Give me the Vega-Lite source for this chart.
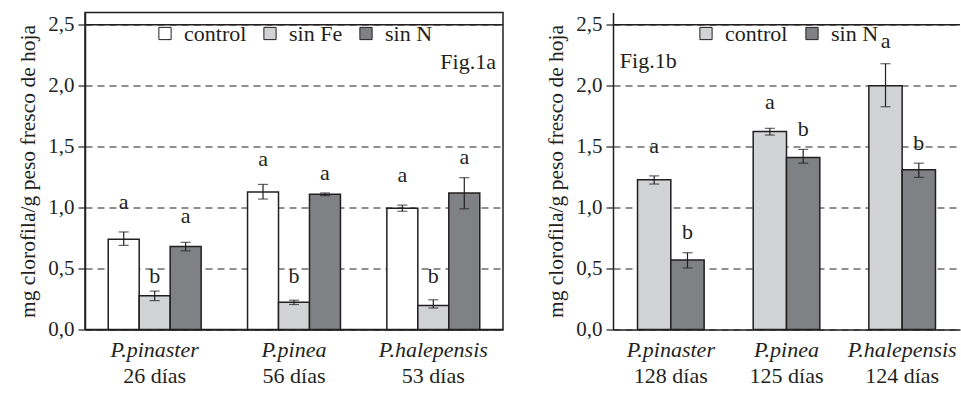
{
  "$schema": "https://vega.github.io/schema/vega-lite/v6.json",
  "padding": {"left": 17, "top": 11.5, "right": 0, "bottom": 0},
  "spacing": 40,
  "config": {
    "font": "Liberation Serif",
    "view": {"stroke": "#231f20", "strokeWidth": 1.5},
    "axis": {"labelFont": "Liberation Serif", "labelFontSize": 22, "labelColor": "#231f20", "titleFont": "Liberation Serif", "titleFontSize": 21.5, "titleFontWeight": "normal", "titleColor": "#231f20", "domainColor": "#231f20", "domainWidth": 1.5, "tickColor": "#231f20", "tickWidth": 1.2},
    "legend": {"labelFont": "Liberation Serif", "labelFontSize": 22, "labelColor": "#231f20", "symbolType": "square", "symbolSize": 150, "symbolStrokeColor": "#231f20", "symbolStrokeWidth": 1, "title": null},
    "text": {"font": "Liberation Serif", "fontSize": 22, "fontWeight": "normal", "color": "#231f20"}
  },
  "resolve": {"scale": {"color": "independent", "xOffset": "independent", "x": "independent"}},
  "hconcat": [
    {
      "width": 418,
      "height": 317,
      "data": {"values": [
        {"g": "P.pinaster|26 días", "t": "control", "v": 0.74, "lo": 0.69, "hi": 0.80, "lab": "a", "ly": 0.99},
        {"g": "P.pinaster|26 días", "t": "sin Fe", "v": 0.276, "lo": 0.237, "hi": 0.315, "lab": "b", "ly": 0.38},
        {"g": "P.pinaster|26 días", "t": "sin N", "v": 0.68, "lo": 0.645, "hi": 0.715, "lab": "a", "ly": 0.875},
        {"g": "P.pinea|56 días", "t": "control", "v": 1.128, "lo": 1.07, "hi": 1.19, "lab": "a", "ly": 1.34},
        {"g": "P.pinea|56 días", "t": "sin Fe", "v": 0.223, "lo": 0.205, "hi": 0.24, "lab": "b", "ly": 0.38},
        {"g": "P.pinea|56 días", "t": "sin N", "v": 1.11, "lo": 1.098, "hi": 1.12, "lab": "a", "ly": 1.23},
        {"g": "P.halepensis|53 días", "t": "control", "v": 0.995, "lo": 0.97, "hi": 1.02, "lab": "a", "ly": 1.21},
        {"g": "P.halepensis|53 días", "t": "sin Fe", "v": 0.197, "lo": 0.176, "hi": 0.244, "lab": "b", "ly": 0.38},
        {"g": "P.halepensis|53 días", "t": "sin N", "v": 1.12, "lo": 0.99, "hi": 1.245, "lab": "a", "ly": 1.36}
      ]},
      "resolve": {"axis": {"x": "independent"}},
      "layer": [
        {
          "mark": {"type": "bar", "stroke": "#231f20", "strokeWidth": 1.5},
          "encoding": {
            "x": {"field": "g", "type": "nominal", "sort": null, "scale": {"domain": ["P.pinaster|26 días", "P.pinea|56 días", "P.halepensis|53 días"], "paddingInner": 0.333, "paddingOuter": 0.1667},
                  "axis": {"orient": "bottom", "title": null, "ticks": false, "labelAngle": 0, "labelFontStyle": "italic", "labelPadding": 10, "labelExpr": "split(datum.label, '|')[0]"}},
            "xOffset": {"field": "t", "type": "nominal", "sort": ["control", "sin Fe", "sin N"], "scale": {"domain": ["control", "sin Fe", "sin N"]}},
            "y": {"field": "v", "type": "quantitative", "scale": {"domain": [0, 2.5]},
                  "axis": {"title": "mg clorofila/g peso fresco de hoja", "values": [0, 0.5, 1, 1.5, 2, 2.5], "tickSize": 7, "labelPadding": 4, "titlePadding": 8, "labelFontSize": 21,
                           "labelExpr": "replace(format(datum.value, '.1f'), '.', ',')",
                           "grid": true, "gridColor": "#231f20", "gridDash": [7, 5], "gridWidth": 1}},
            "color": {"field": "t", "type": "nominal", "scale": {"domain": ["control", "sin Fe", "sin N"], "range": ["#ffffff", "#d1d3d4", "#808184"]},
                      "legend": {"orient": "none", "direction": "horizontal", "legendX": 69, "legendY": 10, "columnPadding": 12, "labelOffset": 8}}
          }
        },
        {
          "data": {"values": [{"top": 2.5}]},
          "mark": {"type": "rule", "color": "#231f20", "strokeWidth": 1.5},
          "encoding": {"y": {"field": "top", "type": "quantitative"}}
        },
        {
          "mark": {"type": "rule", "color": "#231f20", "strokeWidth": 1.2},
          "encoding": {
            "x": {"field": "g", "type": "nominal", "sort": null, "axis": null},
            "xOffset": {"field": "t", "type": "nominal", "sort": ["control", "sin Fe", "sin N"]},
            "y": {"field": "lo", "type": "quantitative"},
            "y2": {"field": "hi"}
          }
        },
        {
          "mark": {"type": "tick", "color": "#231f20", "thickness": 1.2, "size": 10, "orient": "horizontal"},
          "encoding": {
            "x": {"field": "g", "type": "nominal", "sort": null, "axis": null},
            "xOffset": {"field": "t", "type": "nominal", "sort": ["control", "sin Fe", "sin N"]},
            "y": {"field": "lo", "type": "quantitative"}
          }
        },
        {
          "mark": {"type": "tick", "color": "#231f20", "thickness": 1.2, "size": 10, "orient": "horizontal"},
          "encoding": {
            "x": {"field": "g", "type": "nominal", "sort": null, "axis": null},
            "xOffset": {"field": "t", "type": "nominal", "sort": ["control", "sin Fe", "sin N"]},
            "y": {"field": "hi", "type": "quantitative"}
          }
        },
        {
          "mark": {"type": "text", "baseline": "alphabetic"},
          "encoding": {
            "x": {"field": "g", "type": "nominal", "sort": null,
                  "axis": {"orient": "bottom", "title": null, "ticks": false, "domain": false, "labelAngle": 0, "labelPadding": 36, "labelExpr": "split(datum.label, '|')[1]"}},
            "xOffset": {"field": "t", "type": "nominal", "sort": ["control", "sin Fe", "sin N"]},
            "y": {"field": "ly", "type": "quantitative"},
            "text": {"field": "lab"}
          }
        },
        {
          "data": {"values": [{"g": "P.halepensis|53 días", "fy": 2.137, "fig": "Fig.1a"}]},
          "mark": {"type": "text", "baseline": "alphabetic", "align": "left", "dx": 7},
          "encoding": {
            "x": {"field": "g", "type": "nominal", "axis": null},
            "y": {"field": "fy", "type": "quantitative"},
            "text": {"field": "fig"}
          }
        }
      ]
    },
    {
      "width": 347,
      "height": 317,
      "view": {"stroke": null},
      "data": {"values": [
        {"g": "P.pinaster|128 días", "t": "control", "v": 1.228, "lo": 1.193, "hi": 1.26, "lab": "a", "ly": 1.45},
        {"g": "P.pinaster|128 días", "t": "sin N", "v": 0.57, "lo": 0.505, "hi": 0.63, "lab": "b", "ly": 0.74},
        {"g": "P.pinea|125 días", "t": "control", "v": 1.625, "lo": 1.595, "hi": 1.65, "lab": "a", "ly": 1.81},
        {"g": "P.pinea|125 días", "t": "sin N", "v": 1.41, "lo": 1.364, "hi": 1.477, "lab": "b", "ly": 1.585},
        {"g": "P.halepensis|124 días", "t": "control", "v": 2.0, "lo": 1.827, "hi": 2.18, "lab": "a", "ly": 2.31},
        {"g": "P.halepensis|124 días", "t": "sin N", "v": 1.31, "lo": 1.248, "hi": 1.364, "lab": "b", "ly": 1.47}
      ]},
      "resolve": {"axis": {"x": "independent"}},
      "layer": [
        {
          "mark": {"type": "bar", "stroke": "#231f20", "strokeWidth": 1.5},
          "encoding": {
            "x": {"field": "g", "type": "nominal", "sort": null, "scale": {"domain": ["P.pinaster|128 días", "P.pinea|125 días", "P.halepensis|124 días"], "paddingInner": 0.424, "paddingOuter": 0.212},
                  "axis": {"orient": "bottom", "title": null, "ticks": false, "labelAngle": 0, "labelFontStyle": "italic", "labelPadding": 10, "labelExpr": "split(datum.label, '|')[0]"}},
            "xOffset": {"field": "t", "type": "nominal", "sort": ["control", "sin N"], "scale": {"domain": ["control", "sin N"]}},
            "y": {"field": "v", "type": "quantitative", "scale": {"domain": [0, 2.5]},
                  "axis": {"title": "mg clorofila/g peso fresco de hoja", "values": [0, 0.5, 1, 1.5, 2, 2.5], "tickSize": 7, "labelPadding": 4, "titlePadding": 8, "labelFontSize": 21,
                           "labelExpr": "replace(format(datum.value, '.1f'), '.', ',')",
                           "grid": true, "gridColor": "#231f20", "gridDash": [7, 5], "gridWidth": 1}},
            "color": {"field": "t", "type": "nominal", "scale": {"domain": ["control", "sin N"], "range": ["#d1d3d4", "#808184"]},
                      "legend": {"orient": "none", "direction": "horizontal", "legendX": 82, "legendY": 10, "columnPadding": 13, "labelOffset": 8}}
          }
        },
        {
          "data": {"values": [{"top": 2.5}]},
          "mark": {"type": "rule", "color": "#231f20", "strokeWidth": 1.5},
          "encoding": {"y": {"field": "top", "type": "quantitative"}}
        },
        {
          "mark": {"type": "rule", "color": "#231f20", "strokeWidth": 1.2},
          "encoding": {
            "x": {"field": "g", "type": "nominal", "sort": null, "axis": null},
            "xOffset": {"field": "t", "type": "nominal", "sort": ["control", "sin N"]},
            "y": {"field": "lo", "type": "quantitative"},
            "y2": {"field": "hi"}
          }
        },
        {
          "mark": {"type": "tick", "color": "#231f20", "thickness": 1.2, "size": 10, "orient": "horizontal"},
          "encoding": {
            "x": {"field": "g", "type": "nominal", "sort": null, "axis": null},
            "xOffset": {"field": "t", "type": "nominal", "sort": ["control", "sin N"]},
            "y": {"field": "lo", "type": "quantitative"}
          }
        },
        {
          "mark": {"type": "tick", "color": "#231f20", "thickness": 1.2, "size": 10, "orient": "horizontal"},
          "encoding": {
            "x": {"field": "g", "type": "nominal", "sort": null, "axis": null},
            "xOffset": {"field": "t", "type": "nominal", "sort": ["control", "sin N"]},
            "y": {"field": "hi", "type": "quantitative"}
          }
        },
        {
          "mark": {"type": "text", "baseline": "alphabetic"},
          "encoding": {
            "x": {"field": "g", "type": "nominal", "sort": null,
                  "axis": {"orient": "bottom", "title": null, "ticks": false, "domain": false, "labelAngle": 0, "labelPadding": 36, "labelExpr": "split(datum.label, '|')[1]"}},
            "xOffset": {"field": "t", "type": "nominal", "sort": ["control", "sin N"]},
            "y": {"field": "ly", "type": "quantitative"},
            "text": {"field": "lab"}
          }
        },
        {
          "data": {"values": [{"g": "P.pinaster|128 días", "fy": 2.145, "fig": "Fig.1b"}]},
          "mark": {"type": "text", "baseline": "alphabetic", "align": "left", "dx": -51},
          "encoding": {
            "x": {"field": "g", "type": "nominal", "axis": null},
            "y": {"field": "fy", "type": "quantitative"},
            "text": {"field": "fig"}
          }
        }
      ]
    }
  ]
}
